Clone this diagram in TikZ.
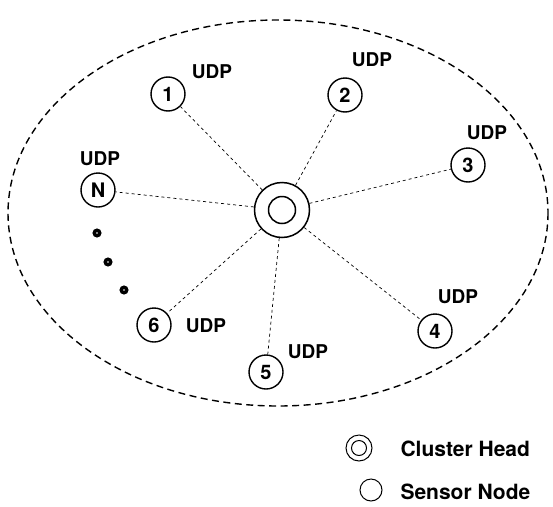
\documentclass[tikz,border=0pt]{standalone}
\usepackage{fontspec}
\setmainfont{TeX Gyre Heros}
\begin{document}
\begin{tikzpicture}[x=1pt,y=-1pt,
  sensor/.style={circle,draw,line width=1.4pt,minimum size=34pt,inner sep=0pt,font=\bfseries\fontsize{20}{20}\selectfont},
  udp/.style={font=\bfseries\fontsize{19}{19}\selectfont},
  link/.style={dash pattern=on 3pt off 3pt,line width=0.7pt},
  dotn/.style={circle,draw,line width=3.4pt,minimum size=5.5pt,inner sep=0pt},
  legtext/.style={font=\bfseries\fontsize{21}{21}\selectfont,anchor=west}]
\useasboundingbox (0,0) rectangle (553,506);
\draw[line width=1.4pt,dash pattern=on 7pt off 4.5pt] (278,213) ellipse [x radius=270, y radius=193];
\node[circle,draw,line width=1.5pt,minimum size=55pt,inner sep=0pt] (ch) at (282,210) {};
\node[circle,draw,line width=1.5pt,minimum size=27pt,inner sep=0pt] (chi) at (282,210) {};
\node[sensor] (n1) at (168,94) {1};
\node[sensor] (n2) at (345,95) {2};
\node[sensor] (n3) at (468,165) {3};
\node[sensor] (nN) at (98,190) {N};
\node[sensor] (n6) at (154,325) {6};
\node[sensor] (n5) at (266,372) {5};
\node[sensor] (n4) at (435,331) {4};
\foreach \n in {n1,n2,n3,nN,n6,n5,n4} \draw[link] (ch) -- (\n);
\node[udp] (u1) at (212,72) {UDP};
\node[udp] (u2) at (372,60) {UDP};
\node[udp] (u3) at (487,133) {UDP};
\node[udp] (uN) at (100,159) {UDP};
\node[udp] (u6) at (206,326) {UDP};
\node[udp] (u5) at (308,352) {UDP};
\node[udp] (u4) at (458,297) {UDP};
\node[dotn] (d1) at (97,233) {};
\node[dotn] (d2) at (108,262) {};
\node[dotn] (d3) at (124,290) {};
\node[circle,draw,line width=1pt,minimum size=26pt,inner sep=0pt] (lch) at (359,448) {};
\node[circle,draw,line width=1pt,minimum size=15pt,inner sep=0pt] (lchi) at (359,448) {};
\node[legtext] (lt1) at (397,449) {Cluster Head};
\node[circle,draw,line width=1pt,minimum size=22pt,inner sep=0pt] (lsn) at (371,490) {};
\node[legtext] (lt2) at (397,492) {Sensor Node};
\end{tikzpicture}
\end{document}
